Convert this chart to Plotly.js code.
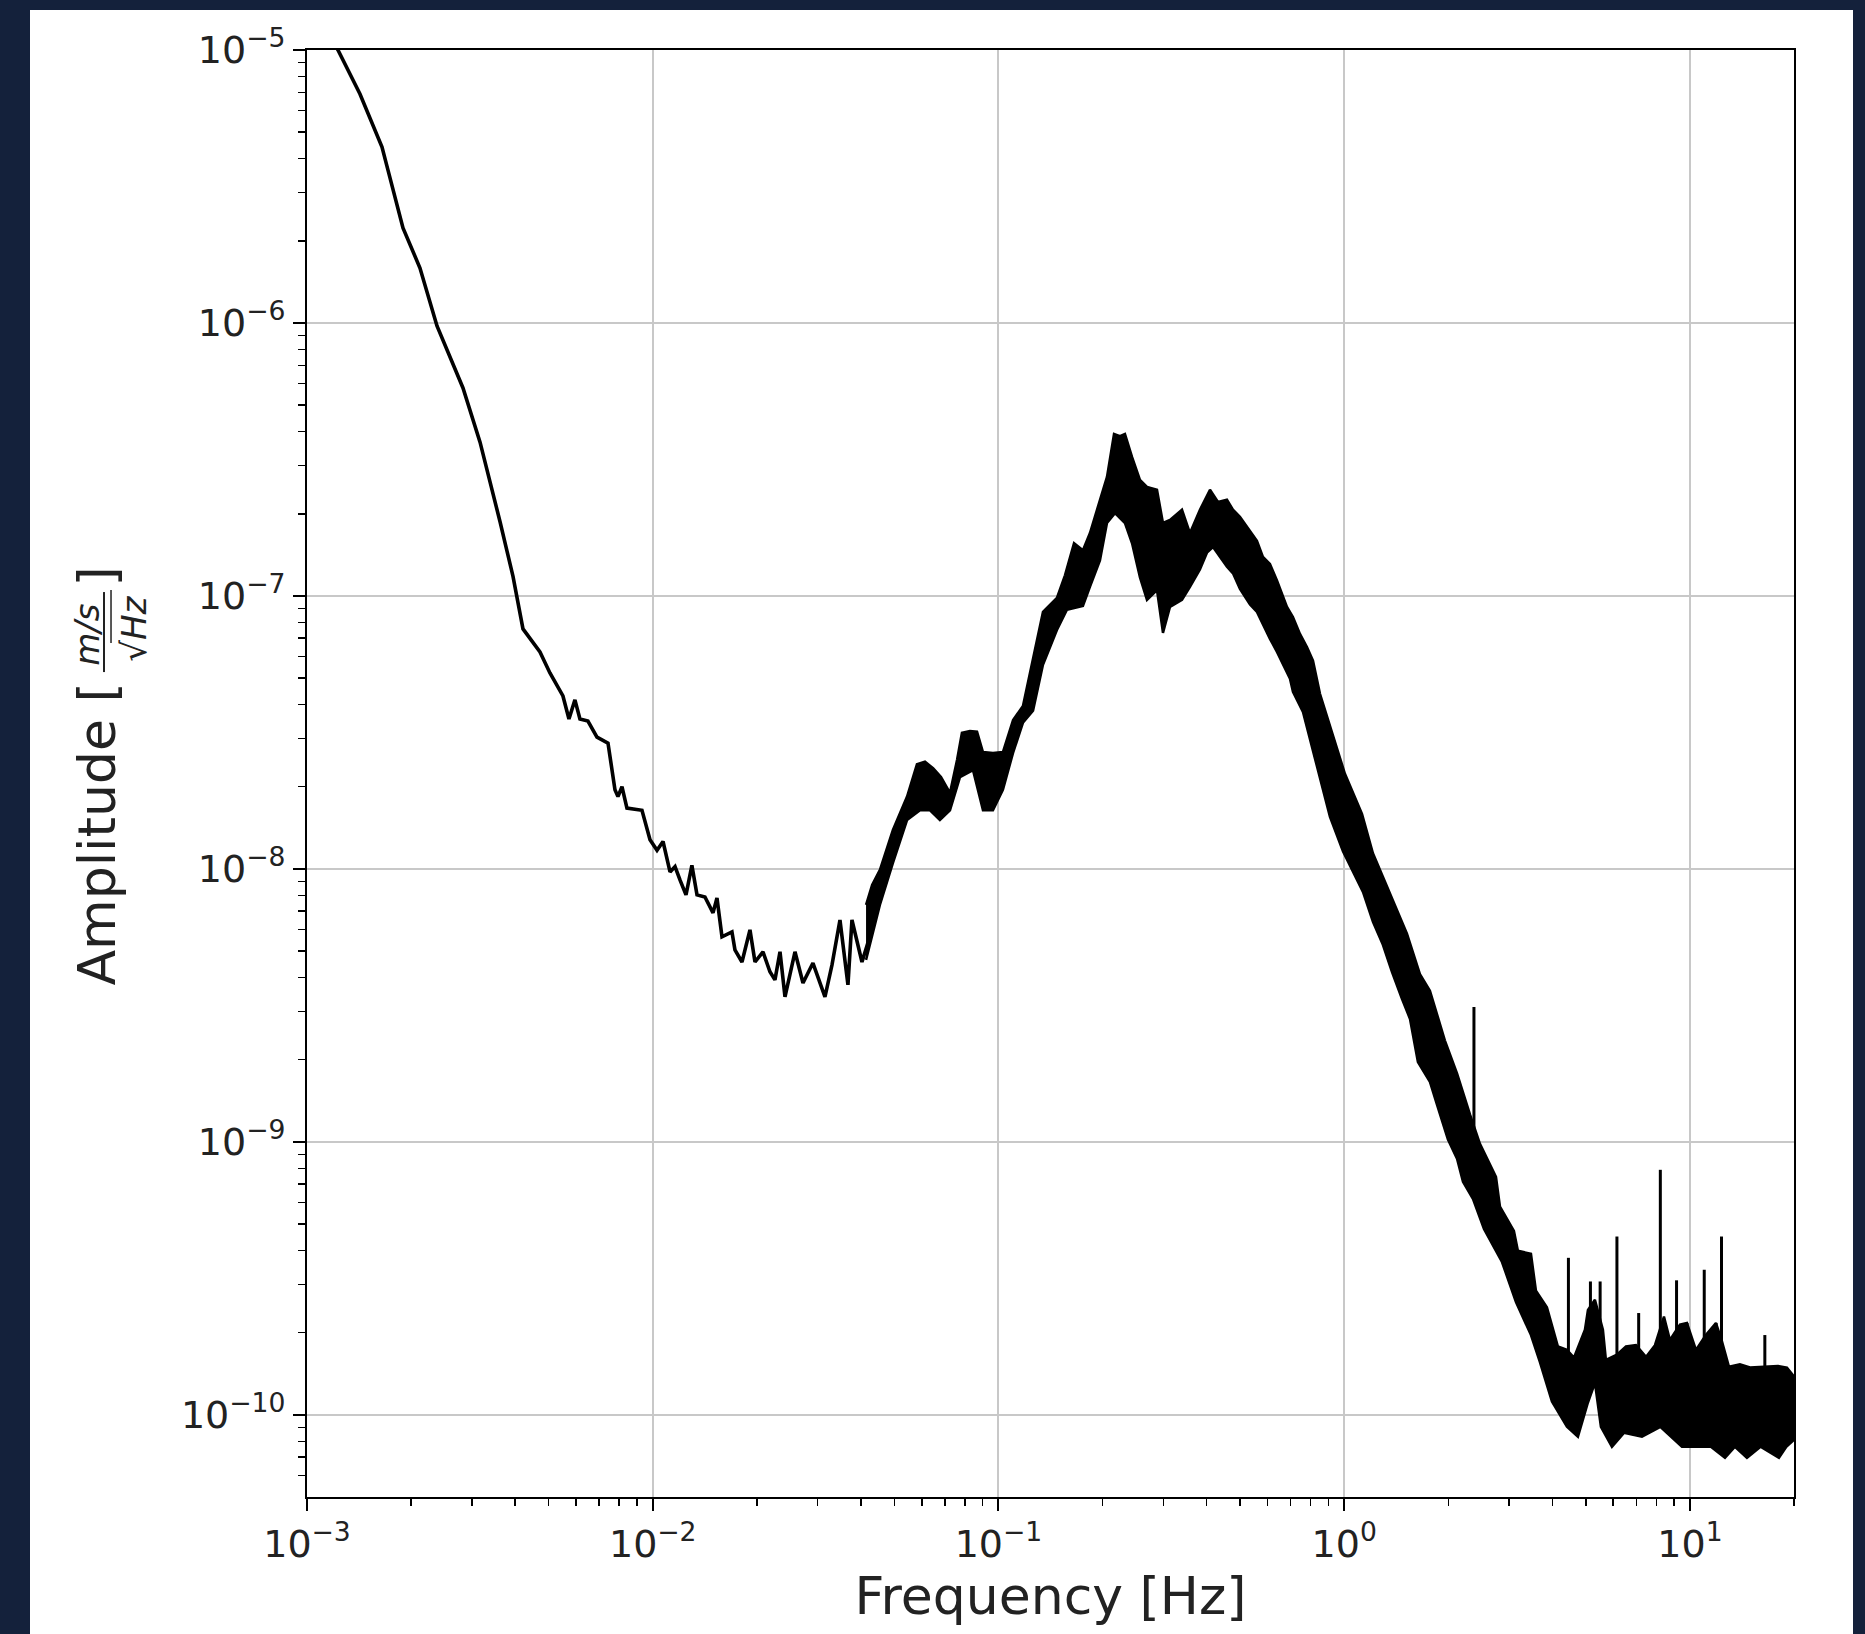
<!DOCTYPE html>
<html><head><meta charset="utf-8">
<script src="https://cdn.plot.ly/plotly-3.0.1.min.js"></script>
<style>
html,body{margin:0;padding:0;background:#14213b;width:1865px;height:1634px;overflow:hidden;}
#chart{position:absolute;left:30px;top:10px;width:1823px;height:1624px;background:#fff;}
</style></head><body><div id="chart"></div><script>
// ---- Low-frequency part (thin line) ----
const lineFreq = [1.090e-3,1.229e-3,1.423e-3,1.648e-3,1.715e-3,1.895e-3,2.122e-3,2.377e-3,2.826e-3,3.166e-3,
  3.617e-3,3.943e-3,4.214e-3,4.719e-3,5.043e-3,5.499e-3,5.724e-3,5.956e-3,6.158e-3,6.495e-3,
  6.898e-3,7.423e-3,7.776e-3,7.933e-3,8.148e-3,8.422e-3,9.309e-3,9.820e-3,1.029e-2,1.071e-2,
  1.122e-2,1.160e-2,1.199e-2,1.248e-2,1.298e-2,1.343e-2,1.416e-2,1.494e-2,1.534e-2,1.586e-2,
  1.695e-2,1.729e-2,1.812e-2,1.911e-2,1.976e-2,2.084e-2,2.183e-2,2.257e-2,2.334e-2,2.413e-2,
  2.579e-2,2.720e-2,2.907e-2,3.149e-2,3.300e-2,3.480e-2,3.670e-2,3.769e-2,4.029e-2,4.305e-2,4.481e-2];
const lineAmp = [1.288e-5,1.000e-5,6.90e-6,4.41e-6,3.63e-6,2.23e-6,1.59e-6,9.75e-7,5.78e-7,3.66e-7,
  1.87e-7,1.18e-7,7.57e-8,6.23e-8,5.22e-8,4.30e-8,3.54e-8,4.16e-8,3.54e-8,3.48e-8,
  3.04e-8,2.89e-8,1.95e-8,1.84e-8,2.00e-8,1.67e-8,1.64e-8,1.28e-8,1.17e-8,1.26e-8,
  9.75e-9,1.02e-8,9.11e-9,8.03e-9,1.03e-8,8.03e-9,7.89e-9,6.90e-9,7.83e-9,5.64e-9,
  5.88e-9,5.05e-9,4.56e-9,5.98e-9,4.56e-9,4.97e-9,4.20e-9,3.92e-9,4.97e-9,3.40e-9,
  4.97e-9,3.82e-9,4.52e-9,3.40e-9,4.45e-9,6.50e-9,3.76e-9,6.50e-9,4.56e-9,5.98e-9,8.88e-9];

// ---- Dense noisy part: upper envelope ----
const upperFreq = [4.14e-2,4.31e-2,4.54e-2,4.95e-2,5.44e-2,5.81e-2,6.13e-2,6.47e-2,6.82e-2,7.24e-2,
  7.59e-2,7.84e-2,8.27e-2,8.67e-2,9.02e-2,9.64e-2,0.1030,0.1102,0.1177,0.1259,
  0.1345,0.1476,0.1557,0.1654,0.1755,0.1839,0.1966,0.2060,0.2159,0.2246,
  0.2322,0.2434,0.2566,0.2689,0.2874,0.2991,0.3134,0.3395,0.3580,0.3826,
  0.4091,0.4315,0.4580,0.4767,0.4994,0.5233,0.5593,0.5821,0.6099,0.6391,
  0.6832,0.7109,0.7449,0.7804,0.8124,0.8511,1.005,1.126,1.211,1.294,
  1.384,1.519,1.656,1.770,1.956,2.120,2.311,2.470,2.748,2.822,
  3.097,3.180,3.469,3.586,3.858,4.152,4.408,4.618,4.970,5.070,
  5.312,5.602,5.715,6.150,6.531,6.981,7.462,7.922,8.412,8.754,
  9.357,9.804,10.41,11.12,11.89,12.35,12.97,13.95,14.92,15.94,
  16.92,17.97,19.08,20.0];
const upperAmp = [7.38e-9,8.74e-9,9.92e-9,1.39e-8,1.84e-8,2.42e-8,2.47e-8,2.34e-8,2.17e-8,1.90e-8,
  2.51e-8,3.15e-8,3.20e-8,3.18e-8,2.68e-8,2.66e-8,2.68e-8,3.51e-8,3.95e-8,5.98e-8,
  8.74e-8,9.83e-8,1.19e-7,1.56e-7,1.47e-7,1.70e-7,2.25e-7,2.73e-7,3.92e-7,3.85e-7,
  3.92e-7,3.23e-7,2.66e-7,2.51e-7,2.45e-7,1.85e-7,1.90e-7,2.07e-7,1.70e-7,2.07e-7,
  2.45e-7,2.21e-7,2.25e-7,2.07e-7,1.95e-7,1.79e-7,1.59e-7,1.39e-7,1.31e-7,1.14e-7,
  9.11e-8,8.37e-8,7.26e-8,6.50e-8,5.79e-8,4.38e-8,2.23e-8,1.59e-8,1.14e-8,9.35e-9,
  7.64e-9,5.79e-9,4.12e-9,3.58e-9,2.35e-9,1.78e-9,1.26e-9,9.84e-10,7.45e-10,5.79e-10,
  4.72e-10,3.99e-10,3.89e-10,2.85e-10,2.48e-10,1.78e-10,1.73e-10,1.62e-10,2.05e-10,2.42e-10,
  2.64e-10,2.05e-10,1.59e-10,1.66e-10,1.78e-10,1.80e-10,1.63e-10,1.80e-10,2.29e-10,1.88e-10,
  2.14e-10,2.17e-10,1.73e-10,1.96e-10,2.17e-10,1.88e-10,1.50e-10,1.53e-10,1.49e-10,1.50e-10,
  1.50e-10,1.51e-10,1.49e-10,1.38e-10];

// ---- Dense noisy part: lower envelope ----
const lowerFreq = [4.14e-2,4.31e-2,4.54e-2,4.95e-2,5.44e-2,5.93e-2,6.34e-2,6.77e-2,7.24e-2,7.74e-2,
  8.44e-2,9.02e-2,9.64e-2,0.1030,0.1102,0.1177,0.1259,0.1345,0.1476,0.1578,
  0.1643,0.1755,0.1839,0.1966,0.2060,0.2173,0.2322,0.2434,0.2566,0.2689,
  0.2874,0.2991,0.3134,0.3395,0.3580,0.3826,0.4009,0.4174,0.4580,0.4767,
  0.4994,0.5339,0.5593,0.5821,0.6099,0.6391,0.6651,0.6969,0.7109,0.7598,
  0.9096,0.9917,1.133,1.211,1.294,1.375,1.469,1.550,1.634,1.770,
  1.855,1.996,2.120,2.206,2.357,2.537,2.860,3.139,3.469,3.682,
  3.989,4.408,4.743,5.070,5.312,5.528,5.949,6.444,7.265,8.211,
  9.483,10.41,11.50,12.63,13.50,14.62,16.00,18.09,19.00,20.0];
const lowerAmp = [4.64e-9,5.73e-9,7.38e-9,1.05e-8,1.51e-8,1.64e-8,1.64e-8,1.51e-8,1.64e-8,2.17e-8,
  2.30e-8,1.64e-8,1.64e-8,1.95e-8,2.66e-8,3.43e-8,3.80e-8,5.60e-8,7.50e-8,8.90e-8,
  9.00e-8,9.20e-8,1.08e-7,1.35e-7,1.85e-7,2.01e-7,1.85e-7,1.56e-7,1.17e-7,9.67e-8,
  1.05e-7,7.32e-8,9.11e-8,9.67e-8,1.08e-7,1.25e-7,1.44e-7,1.51e-7,1.28e-7,1.21e-7,
  1.06e-7,9.31e-8,8.74e-8,7.83e-8,6.96e-8,6.24e-8,5.59e-8,4.97e-8,4.45e-8,3.76e-8,
  1.55e-8,1.16e-8,8.24e-9,6.40e-9,5.27e-9,4.19e-9,3.34e-9,2.82e-9,1.96e-9,1.66e-9,
  1.37e-9,1.02e-9,8.67e-10,7.14e-10,6.18e-10,4.80e-10,3.63e-10,2.59e-10,1.96e-10,1.56e-10,
  1.12e-10,9.04e-11,8.31e-11,1.11e-10,1.31e-10,9.04e-11,7.64e-11,8.59e-11,8.31e-11,9.04e-11,
  7.64e-11,7.64e-11,7.64e-11,6.96e-11,7.64e-11,6.96e-11,7.64e-11,6.96e-11,7.64e-11,8.10e-11];

// ---- Narrow spectral lines ----
const spikeFreq = [2.373,4.452,5.155,5.499,6.150,7.108,8.211,9.148,9.81,11.00,11.9,12.34,16.47];
const spikePeak = [3.12e-9,3.76e-10,3.08e-10,3.08e-10,4.50e-10,2.36e-10,7.90e-10,3.11e-10,2.17e-10,3.40e-10,2.17e-10,4.50e-10,1.96e-10];
const spikeBase = [1.1e-9,1.6e-10,1.8e-10,1.8e-10,1.6e-10,1.6e-10,1.6e-10,1.6e-10,1.6e-10,1.6e-10,1.6e-10,1.6e-10,1.5e-10];

// ---- Tick labels ----
const xTickVals = [1e-3,1e-2,1e-1,1,10];
const xTickText = ['10<sup>−3</sup>','10<sup>−2</sup>','10<sup>−1</sup>','10<sup>0</sup>','10<sup>1</sup>'];
const yTickVals = [1e-10,1e-9,1e-8,1e-7,1e-6,1e-5];
const yTickText = ['10<sup>−10</sup>','10<sup>−9</sup>','10<sup>−8</sup>','10<sup>−7</sup>','10<sup>−6</sup>','10<sup>−5</sup>'];

function minorTicks(d0, d1, lo, hi){
  const out=[];
  for(let d=d0; d<=d1; d++){ for(let m=2;m<=9;m++){ const v=m*Math.pow(10,d); if(v>=lo && v<=hi) out.push(v);} }
  return out;
}

const spikeX=[], spikeY=[];
spikeFreq.forEach((f,i)=>{ spikeX.push(f,f,null); spikeY.push(spikeBase[i],spikePeak[i],null); });

const FONT = '"DejaVu Sans", "Liberation Sans", sans-serif';
const TXT = '#222222';

const traces = [
  {x: lineFreq, y: lineAmp, mode:'lines', line:{color:'#000', width:3.6}, hoverinfo:'skip'},
  {x: lowerFreq, y: lowerAmp, mode:'lines', line:{color:'#000', width:2.5}, hoverinfo:'skip'},
  {x: upperFreq, y: upperAmp, mode:'lines', fill:'tonexty', fillcolor:'#000', line:{color:'#000', width:2.5}, hoverinfo:'skip'},
  {x: spikeX, y: spikeY, mode:'lines', line:{color:'#000', width:3}, hoverinfo:'skip', connectgaps:false}
];

const axisCommon = {
  type:'log', showline:true, mirror:true, linecolor:'#000', linewidth:2,
  showgrid:true, gridcolor:'#c8c8c8', gridwidth:2, zeroline:false,
  ticks:'outside', ticklen:12, tickwidth:2, tickcolor:'#000',
  tickmode:'array', tickfont:{family:FONT, size:38, color:TXT}
};

const layout = {
  width:1823, height:1624,
  paper_bgcolor:'#ffffff', plot_bgcolor:'#ffffff',
  margin:{l:277, r:59, t:40, b:137},
  showlegend:false,
  font:{family:FONT, color:TXT},
  xaxis: Object.assign({}, axisCommon, {
    range:[-3, Math.log10(20)], tickvals:xTickVals, ticktext:xTickText,
    minor:{tickmode:'array', tickvals:minorTicks(-3,1,1e-3,20), ticks:'outside', ticklen:7, tickwidth:1.5, tickcolor:'#000', showgrid:false},
    title:{text:'Frequency [Hz]', font:{family:FONT, size:52, color:TXT}, standoff:12}
  }),
  yaxis: Object.assign({}, axisCommon, {
    range:[Math.log10(5e-11), -5], tickvals:yTickVals, ticktext:yTickText,
    minor:{tickmode:'array', tickvals:minorTicks(-11,-6,5e-11,1e-5), ticks:'outside', ticklen:7, tickwidth:1.5, tickcolor:'#000', showgrid:false}
  }),
  annotations:[
    {xref:'paper', yref:'paper', x:-0.1412, y:0.4578, text:'Amplitude [', textangle:-90, showarrow:false,
     xanchor:'center', yanchor:'middle', font:{family:FONT, size:52, color:TXT}},
    {xref:'paper', yref:'paper', x:-0.1412, y:0.6362, text:']', textangle:-90, showarrow:false,
     xanchor:'center', yanchor:'middle', font:{family:FONT, size:52, color:TXT}},
    {xref:'paper', yref:'paper', x:-0.1485, y:0.5960, text:'<i>m/s</i>', textangle:-90, showarrow:false,
     xanchor:'center', yanchor:'middle', font:{family:FONT, size:34, color:TXT}},
    {xref:'paper', yref:'paper', x:-0.1165, y:0.5999, text:'√<i>Hz</i>', textangle:-90, showarrow:false,
     xanchor:'center', yanchor:'middle', font:{family:FONT, size:34, color:TXT}}
  ],
  shapes:[
    {type:'line', xref:'paper', yref:'paper', x0:-0.1365, x1:-0.1365, y0:0.5701, y1:0.6254, line:{color:TXT, width:2}},
    {type:'line', xref:'paper', yref:'paper', x0:-0.1318, x1:-0.1318, y0:0.5902, y1:0.6268, line:{color:TXT, width:1.5}}
  ]
};

Plotly.newPlot('chart', traces, layout, {staticPlot:true, displayModeBar:false});
</script></body></html>
